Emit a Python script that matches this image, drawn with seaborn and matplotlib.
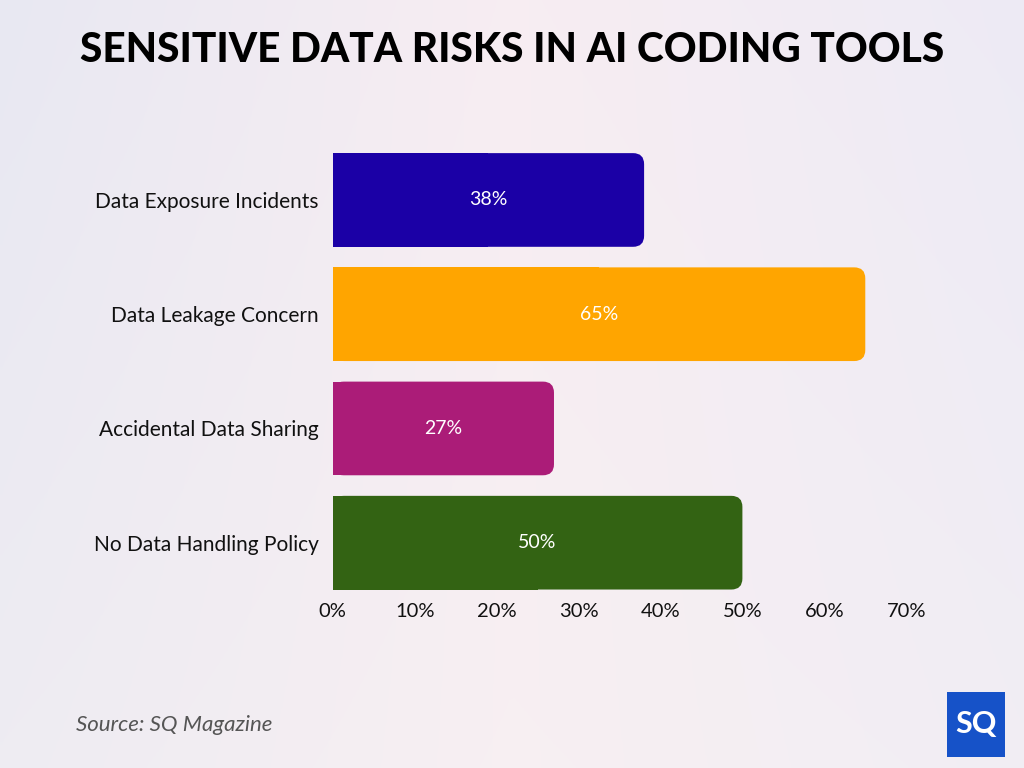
import numpy as np
import pandas as pd
import matplotlib.pyplot as plt
import seaborn as sns
from matplotlib.patches import FancyBboxPatch, Rectangle

# data
categories = ['Data Exposure Incidents', 'Data Leakage Concern',
              'Accidental Data Sharing', 'No Data Handling Policy']
values = [38, 65, 27, 50]
bar_colors = ['#1B00A6', '#FFA500', '#AB1C78', '#336313']
x_ticks = [0, 10, 20, 30, 40, 50, 60, 70]
x_tick_labels = [f'{t}%' for t in x_ticks]

df = pd.DataFrame({'category': categories, 'value': values})

sns.set_theme(style='white')
plt.rcParams['font.family'] = ['Lato', 'DejaVu Sans']

fig = plt.figure(figsize=(10.24, 7.68), dpi=100)

# background gradient
bg = fig.add_axes([0, 0, 1, 1], zorder=-10)
gx, gy = np.meshgrid(np.linspace(0, 1, 256), np.linspace(0, 1, 256))
c_left = np.array([0.91, 0.91, 0.95])
c_mid = np.array([0.97, 0.93, 0.95])
c_low = np.array([0.97, 0.95, 0.95])
c_right = np.array([0.93, 0.92, 0.96])
w1 = np.clip(1 - gx * 2, 0, 1)[..., None]
w3 = np.clip(gx * 2 - 1, 0, 1)[..., None]
w2 = 1 - w1 - w3
img = w1 * c_left + w2 * c_mid + w3 * c_right
img = img * (1 - 0.4 * gy[..., None]) + c_low * 0.4 * gy[..., None]
bg.imshow(img, aspect='auto', extent=[0, 1, 0, 1], origin='upper')
bg.axis('off')

ax = fig.add_axes([0.325, 0.219, 0.560, 0.595])
ax.set_facecolor('none')
sns.barplot(data=df, y='category', x='value', hue='category', palette=bar_colors,
            legend=False, width=0.82, ax=ax, saturation=1)
ax.set_xlim(0, 70)
ax.set_ylim(3.5, -0.5)

# rounded right corners (left side kept square)
fig.canvas.draw()
px_x = ax.transData.transform((1, 0))[0] - ax.transData.transform((0, 0))[0]
px_y = abs(ax.transData.transform((0, 1))[1] - ax.transData.transform((0, 0))[1])
r = 11 / px_x
aspect = px_x / px_y
for p in list(ax.patches):
    x0, y0 = p.get_x(), p.get_y()
    w, h = p.get_width(), p.get_height()
    col = p.get_facecolor()
    p.remove()
    ax.add_patch(FancyBboxPatch((x0, y0), w, h,
                                boxstyle=f'round,pad=0,rounding_size={r}',
                                mutation_aspect=aspect, facecolor=col,
                                edgecolor='none', zorder=2))
    ax.add_patch(Rectangle((x0, y0), w / 2, h, facecolor=col,
                           edgecolor='none', antialiased=False, zorder=2))

for i, v in enumerate(values):
    ax.text(v / 2, i, f'{v}%', ha='center', va='center', color='white',
            fontsize=14, zorder=3)

ax.set_xticks(x_ticks)
ax.set_xticklabels(x_tick_labels, fontsize=14.5, color='#111111')
ax.tick_params(axis='y', labelsize=15, labelcolor='#111111', pad=10)
ax.tick_params(axis='x', pad=2, length=0)
ax.tick_params(axis='y', length=0)
ax.set_xlabel('')
ax.set_ylabel('')
sns.despine(ax=ax, left=True, bottom=True)

fig.text(0.5, 0.935, 'SENSITIVE DATA RISKS IN AI CODING TOOLS', ha='center',
         va='center', fontsize=29.2, fontweight='black', color='#000000')
fig.text(0.074, 0.056, 'Source: SQ Magazine', ha='left', va='center',
         fontsize=16, style='italic', color='#555555')

# logo
fig.patches.append(Rectangle((947 / 1024, 1 - 757 / 768), 58 / 1024, 65 / 768,
                             transform=fig.transFigure, facecolor='#1652C8',
                             edgecolor='none'))
fig.text(976 / 1024, 1 - 724 / 768, 'SQ', ha='center', va='center',
         fontsize=22, fontweight='bold', color='white')

plt.savefig('out.png', dpi=100)
